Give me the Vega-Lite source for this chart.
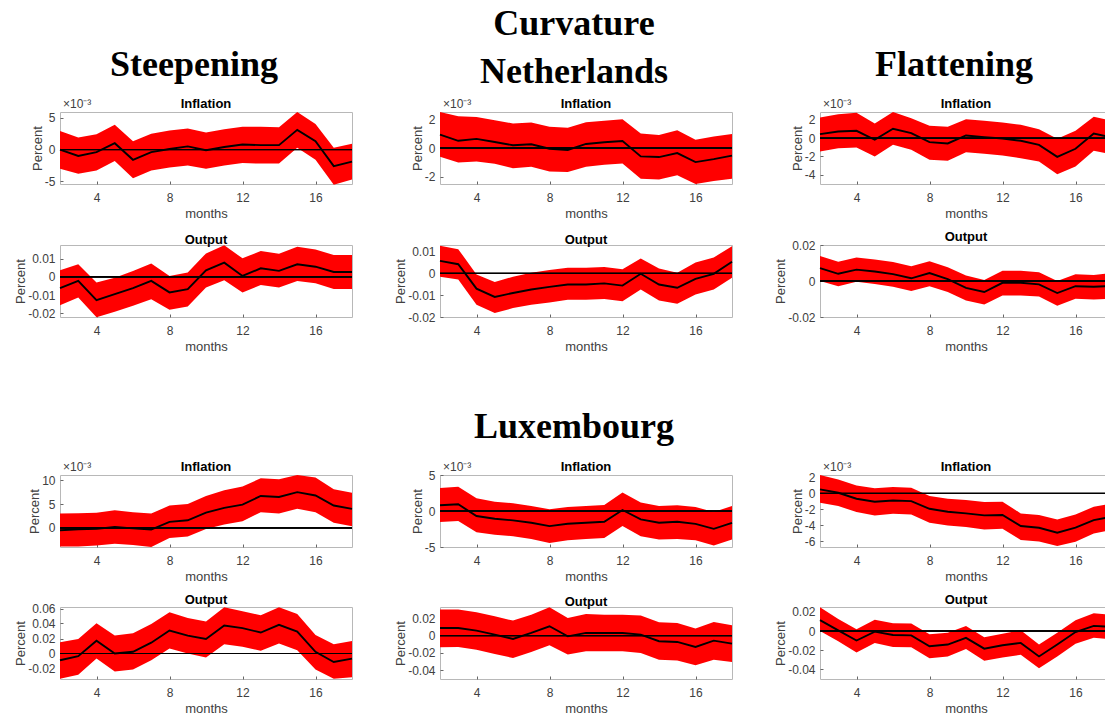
{
"$schema": "https://vega.github.io/schema/vega-lite/v6.json",
"padding": {"left": 14, "top": 5, "right": 0, "bottom": 0},
"background": "white",
"config": {
  "font": "Liberation Sans",
  "view": {"stroke": "#b8b8b8", "strokeWidth": 1},
  "axis": {"grid": false, "domain": false, "ticks": true, "tickSize": -3, "tickColor": "#666666", "labelFontSize": 12, "labelColor": "#404040", "labelOverlap": false, "titleFontSize": 13, "titleFontWeight": "normal", "titleColor": "#404040", "labelFont": "Liberation Sans", "titleFont": "Liberation Sans", "labelExpr": "'' + datum.value"},
  "axisX": {"titlePadding": 4, "labelPadding": 11},
  "axisY": {"titlePadding": 0, "labelPadding": 8},
  "title": {"fontSize": 13, "fontWeight": "bold", "color": "#000000", "offset": -2, "frame": "group", "font": "Liberation Sans"},
  "rule": {"color": "#000000", "strokeWidth": 0.7, "opacity": 0.55},
  "line": {"color": "#000000", "strokeWidth": 1.9, "clip": true},
  "area": {"color": "#ff0000", "clip": true}
},
"datasets": {
 "p1": [{"m":2,"mid":0,"lo":-3.0,"hi":2.9},{"m":3,"mid":-1.0,"lo":-3.8,"hi":1.9},{"m":4,"mid":-0.4,"lo":-3.3,"hi":2.4},{"m":5,"mid":1.0,"lo":-1.8,"hi":3.9},{"m":6,"mid":-1.6,"lo":-4.5,"hi":1.3},{"m":7,"mid":-0.4,"lo":-3.3,"hi":2.5},{"m":8,"mid":0.1,"lo":-2.8,"hi":3.0},{"m":9,"mid":0.5,"lo":-2.5,"hi":3.3},{"m":10,"mid":-0.1,"lo":-3.0,"hi":2.7},{"m":11,"mid":0.4,"lo":-2.5,"hi":3.2},{"m":12,"mid":0.8,"lo":-2.1,"hi":3.6},{"m":13,"mid":0.7,"lo":-2.2,"hi":3.6},{"m":14,"mid":0.7,"lo":-2.2,"hi":3.5},{"m":15,"mid":3.1,"lo":0.3,"hi":5.9},{"m":16,"mid":1.3,"lo":-1.6,"hi":4.0},{"m":17,"mid":-2.6,"lo":-5.5,"hi":0.3},{"m":18,"mid":-1.9,"lo":-4.7,"hi":0.9}],
 "p2": [{"m":2,"mid":0.93,"lo":-0.6,"hi":2.5},{"m":3,"mid":0.5,"lo":-1.0,"hi":2.2},{"m":4,"mid":0.63,"lo":-0.93,"hi":2.16},{"m":5,"mid":0.42,"lo":-1.1,"hi":1.93},{"m":6,"mid":0.19,"lo":-1.4,"hi":1.7},{"m":7,"mid":0.26,"lo":-1.3,"hi":1.77},{"m":8,"mid":-0.05,"lo":-1.63,"hi":1.47},{"m":9,"mid":-0.14,"lo":-1.67,"hi":1.4},{"m":10,"mid":0.28,"lo":-1.3,"hi":1.79},{"m":11,"mid":0.4,"lo":-1.16,"hi":1.9},{"m":12,"mid":0.49,"lo":-1.07,"hi":2.0},{"m":13,"mid":-0.58,"lo":-2.14,"hi":1.0},{"m":14,"mid":-0.63,"lo":-2.19,"hi":0.9},{"m":15,"mid":-0.35,"lo":-1.9,"hi":1.23},{"m":16,"mid":-0.98,"lo":-2.5,"hi":0.58},{"m":17,"mid":-0.77,"lo":-2.3,"hi":0.79},{"m":18,"mid":-0.53,"lo":-2.14,"hi":0.98}],
 "p3": [{"m":2,"mid":0.44,"lo":-1.45,"hi":2.25},{"m":3,"mid":0.73,"lo":-1.09,"hi":2.6},{"m":4,"mid":0.8,"lo":-1.02,"hi":2.76},{"m":5,"mid":-0.18,"lo":-2.0,"hi":1.6},{"m":6,"mid":1.02,"lo":-0.73,"hi":2.84},{"m":7,"mid":0.55,"lo":-1.27,"hi":2.18},{"m":8,"mid":-0.44,"lo":-2.36,"hi":1.35},{"m":9,"mid":-0.58,"lo":-2.47,"hi":1.24},{"m":10,"mid":0.29,"lo":-1.53,"hi":2.07},{"m":11,"mid":0.11,"lo":-1.71,"hi":1.89},{"m":12,"mid":-0.04,"lo":-1.89,"hi":1.71},{"m":13,"mid":-0.29,"lo":-2.18,"hi":1.45},{"m":14,"mid":-0.73,"lo":-2.55,"hi":0.98},{"m":15,"mid":-2.04,"lo":-3.93,"hi":-0.07},{"m":16,"mid":-1.16,"lo":-3.09,"hi":0.8},{"m":17,"mid":0.51,"lo":-1.38,"hi":2.33},{"m":18,"mid":0.07,"lo":-1.75,"hi":1.89}],
 "p4": [{"m":2,"mid":-0.0062,"lo":-0.0155,"hi":0.0036},{"m":3,"mid":-0.0022,"lo":-0.0113,"hi":0.0069},{"m":4,"mid":-0.0127,"lo":-0.0222,"hi":-0.0031},{"m":5,"mid":-0.0095,"lo":-0.0191,"hi":-0.0004},{"m":6,"mid":-0.0062,"lo":-0.0158,"hi":0.0033},{"m":7,"mid":-0.0022,"lo":-0.0122,"hi":0.0073},{"m":8,"mid":-0.0085,"lo":-0.018,"hi":0.0005},{"m":9,"mid":-0.0067,"lo":-0.0162,"hi":0.0024},{"m":10,"mid":0.0036,"lo":-0.0058,"hi":0.0129},{"m":11,"mid":0.0078,"lo":-0.0018,"hi":0.0173},{"m":12,"mid":0.0005,"lo":-0.0085,"hi":0.0102},{"m":13,"mid":0.0047,"lo":-0.0045,"hi":0.0142},{"m":14,"mid":0.0033,"lo":-0.0058,"hi":0.0127},{"m":15,"mid":0.0069,"lo":-0.0022,"hi":0.0165},{"m":16,"mid":0.0056,"lo":-0.0035,"hi":0.0151},{"m":17,"mid":0.0027,"lo":-0.0067,"hi":0.012},{"m":18,"mid":0.0027,"lo":-0.0067,"hi":0.012}],
 "p5": [{"m":2,"mid":0.0057,"lo":-0.0015,"hi":0.0127},{"m":3,"mid":0.0042,"lo":-0.0028,"hi":0.0111},{"m":4,"mid":-0.007,"lo":-0.0144,"hi":-0.0005},{"m":5,"mid":-0.0108,"lo":-0.0182,"hi":-0.004},{"m":6,"mid":-0.009,"lo":-0.0159,"hi":-0.0015},{"m":7,"mid":-0.0074,"lo":-0.0144,"hi":0.0003},{"m":8,"mid":-0.0062,"lo":-0.0133,"hi":0.0015},{"m":9,"mid":-0.0051,"lo":-0.0121,"hi":0.0026},{"m":10,"mid":-0.0051,"lo":-0.0121,"hi":0.0026},{"m":11,"mid":-0.0046,"lo":-0.0117,"hi":0.0029},{"m":12,"mid":-0.0056,"lo":-0.0128,"hi":0.0019},{"m":13,"mid":-0.0002,"lo":-0.0074,"hi":0.0068},{"m":14,"mid":-0.0051,"lo":-0.0124,"hi":0.0022},{"m":15,"mid":-0.0066,"lo":-0.0139,"hi":0.0003},{"m":16,"mid":-0.0025,"lo":-0.0097,"hi":0.005},{"m":17,"mid":-0.0002,"lo":-0.0074,"hi":0.0073},{"m":18,"mid":0.0053,"lo":-0.002,"hi":0.0124}],
 "p6": [{"m":2,"mid":0.0072,"lo":0.0,"hi":0.0139},{"m":3,"mid":0.004,"lo":-0.0029,"hi":0.0107},{"m":4,"mid":0.0063,"lo":-0.0004,"hi":0.013},{"m":5,"mid":0.0053,"lo":-0.0017,"hi":0.012},{"m":6,"mid":0.0038,"lo":-0.0032,"hi":0.0105},{"m":7,"mid":0.0015,"lo":-0.0055,"hi":0.0082},{"m":8,"mid":0.0044,"lo":-0.0029,"hi":0.011},{"m":9,"mid":0.001,"lo":-0.0061,"hi":0.0076},{"m":10,"mid":-0.0038,"lo":-0.0109,"hi":0.003},{"m":11,"mid":-0.0061,"lo":-0.0131,"hi":0.0006},{"m":12,"mid":-0.001,"lo":-0.008,"hi":0.0057},{"m":13,"mid":-0.001,"lo":-0.008,"hi":0.0057},{"m":14,"mid":-0.0019,"lo":-0.0086,"hi":0.0048},{"m":15,"mid":-0.0067,"lo":-0.0137,"hi":0.0},{"m":16,"mid":-0.0029,"lo":-0.0099,"hi":0.0038},{"m":17,"mid":-0.0032,"lo":-0.0103,"hi":0.0034},{"m":18,"mid":-0.0027,"lo":-0.0099,"hi":0.0044}],
 "p7": [{"m":2,"mid":-0.5,"lo":-3.9,"hi":3.0},{"m":3,"mid":-0.3,"lo":-3.9,"hi":3.1},{"m":4,"mid":-0.2,"lo":-3.7,"hi":3.2},{"m":5,"mid":0.2,"lo":-3.3,"hi":3.7},{"m":6,"mid":-0.1,"lo":-3.6,"hi":3.3},{"m":7,"mid":-0.35,"lo":-4.0,"hi":3.0},{"m":8,"mid":1.27,"lo":-2.1,"hi":4.7},{"m":9,"mid":1.6,"lo":-1.8,"hi":5.0},{"m":10,"mid":3.2,"lo":-0.2,"hi":6.7},{"m":11,"mid":4.2,"lo":0.7,"hi":7.9},{"m":12,"mid":4.9,"lo":1.4,"hi":8.7},{"m":13,"mid":6.7,"lo":3.3,"hi":10.4},{"m":14,"mid":6.5,"lo":3.0,"hi":10.2},{"m":15,"mid":7.5,"lo":4.0,"hi":11.1},{"m":16,"mid":6.8,"lo":3.3,"hi":10.6},{"m":17,"mid":4.7,"lo":1.1,"hi":8.1},{"m":18,"mid":4.0,"lo":0.35,"hi":7.4}],
 "p8": [{"m":2,"mid":0.8,"lo":-1.54,"hi":3.2},{"m":3,"mid":0.93,"lo":-1.4,"hi":3.36},{"m":4,"mid":-0.7,"lo":-2.94,"hi":1.78},{"m":5,"mid":-1.07,"lo":-3.3,"hi":1.3},{"m":6,"mid":-1.3,"lo":-3.5,"hi":1.07},{"m":7,"mid":-1.64,"lo":-3.88,"hi":0.7},{"m":8,"mid":-2.1,"lo":-4.44,"hi":0.23},{"m":9,"mid":-1.78,"lo":-4.07,"hi":0.56},{"m":10,"mid":-1.64,"lo":-3.88,"hi":0.7},{"m":11,"mid":-1.5,"lo":-3.74,"hi":0.84},{"m":12,"mid":0.14,"lo":-2.1,"hi":2.57},{"m":13,"mid":-1.17,"lo":-3.5,"hi":1.17},{"m":14,"mid":-1.64,"lo":-3.97,"hi":0.7},{"m":15,"mid":-1.5,"lo":-3.88,"hi":0.8},{"m":16,"mid":-1.78,"lo":-4.07,"hi":0.56},{"m":17,"mid":-2.48,"lo":-4.8,"hi":-0.14},{"m":18,"mid":-1.64,"lo":-3.97,"hi":0.7}],
 "p9": [{"m":2,"mid":0.5,"lo":-1.17,"hi":2.3},{"m":3,"mid":0.08,"lo":-1.58,"hi":1.75},{"m":4,"mid":-0.67,"lo":-2.33,"hi":1.0},{"m":5,"mid":-1.04,"lo":-2.75,"hi":0.63},{"m":6,"mid":-0.88,"lo":-2.54,"hi":0.79},{"m":7,"mid":-0.96,"lo":-2.63,"hi":0.71},{"m":8,"mid":-1.92,"lo":-3.67,"hi":-0.33},{"m":9,"mid":-2.29,"lo":-4.0,"hi":-0.67},{"m":10,"mid":-2.5,"lo":-4.21,"hi":-0.83},{"m":11,"mid":-2.75,"lo":-4.5,"hi":-1.08},{"m":12,"mid":-2.7,"lo":-4.42,"hi":-1.04},{"m":13,"mid":-4.08,"lo":-5.83,"hi":-2.5},{"m":14,"mid":-4.29,"lo":-6.0,"hi":-2.71},{"m":15,"mid":-4.92,"lo":-6.58,"hi":-3.25},{"m":16,"mid":-4.29,"lo":-6.04,"hi":-2.63},{"m":17,"mid":-3.33,"lo":-5.0,"hi":-1.67},{"m":18,"mid":-2.9,"lo":-4.58,"hi":-1.25}],
 "p10": [{"m":2,"mid":-0.009,"lo":-0.0338,"hi":0.0149},{"m":3,"mid":-0.0036,"lo":-0.0284,"hi":0.0194},{"m":4,"mid":0.017,"lo":-0.0068,"hi":0.0405},{"m":5,"mid":0.0,"lo":-0.0239,"hi":0.0239},{"m":6,"mid":0.0023,"lo":-0.0212,"hi":0.027},{"m":7,"mid":0.0144,"lo":-0.009,"hi":0.0392},{"m":8,"mid":0.0306,"lo":0.0068,"hi":0.055},{"m":9,"mid":0.0239,"lo":0.0,"hi":0.0473},{"m":10,"mid":0.0194,"lo":-0.0054,"hi":0.0428},{"m":11,"mid":0.0374,"lo":0.0122,"hi":0.0617},{"m":12,"mid":0.0338,"lo":0.009,"hi":0.0563},{"m":13,"mid":0.028,"lo":0.0036,"hi":0.0509},{"m":14,"mid":0.0383,"lo":0.0135,"hi":0.0617},{"m":15,"mid":0.0293,"lo":0.0045,"hi":0.0527},{"m":16,"mid":0.0023,"lo":-0.0212,"hi":0.0248},{"m":17,"mid":-0.0113,"lo":-0.0338,"hi":0.0122},{"m":18,"mid":-0.0068,"lo":-0.0315,"hi":0.0167}],
 "p11": [{"m":2,"mid":0.0088,"lo":-0.0135,"hi":0.03},{"m":3,"mid":0.0088,"lo":-0.0131,"hi":0.03},{"m":4,"mid":0.0058,"lo":-0.0162,"hi":0.0269},{"m":5,"mid":0.0012,"lo":-0.0212,"hi":0.0223},{"m":6,"mid":-0.0038,"lo":-0.0258,"hi":0.0173},{"m":7,"mid":0.0031,"lo":-0.0188,"hi":0.0242},{"m":8,"mid":0.0108,"lo":-0.0112,"hi":0.0327},{"m":9,"mid":-0.0008,"lo":-0.0219,"hi":0.0204},{"m":10,"mid":0.0031,"lo":-0.0181,"hi":0.025},{"m":11,"mid":0.0031,"lo":-0.0181,"hi":0.0242},{"m":12,"mid":0.0031,"lo":-0.0181,"hi":0.0242},{"m":13,"mid":0.0012,"lo":-0.02,"hi":0.0231},{"m":14,"mid":-0.0065,"lo":-0.0277,"hi":0.0154},{"m":15,"mid":-0.0073,"lo":-0.0288,"hi":0.0146},{"m":16,"mid":-0.0131,"lo":-0.0342,"hi":0.0081},{"m":17,"mid":-0.0058,"lo":-0.0277,"hi":0.0158},{"m":18,"mid":-0.0092,"lo":-0.0304,"hi":0.0119}],
 "p12": [{"m":2,"mid":0.0113,"lo":0.0,"hi":0.0247},{"m":3,"mid":0.0007,"lo":-0.0106,"hi":0.0124},{"m":4,"mid":-0.0099,"lo":-0.0223,"hi":0.0018},{"m":5,"mid":-0.0007,"lo":-0.0124,"hi":0.0117},{"m":6,"mid":-0.0042,"lo":-0.0166,"hi":0.0081},{"m":7,"mid":-0.0046,"lo":-0.017,"hi":0.0078},{"m":8,"mid":-0.0159,"lo":-0.0283,"hi":-0.0035},{"m":9,"mid":-0.0141,"lo":-0.0265,"hi":-0.0018},{"m":10,"mid":-0.0071,"lo":-0.0187,"hi":0.0053},{"m":11,"mid":-0.0184,"lo":-0.0311,"hi":-0.0064},{"m":12,"mid":-0.0148,"lo":-0.0276,"hi":-0.0028},{"m":13,"mid":-0.0124,"lo":-0.0247,"hi":0.0007},{"m":14,"mid":-0.0265,"lo":-0.0389,"hi":-0.0141},{"m":15,"mid":-0.0141,"lo":-0.0265,"hi":-0.0018},{"m":16,"mid":-0.0011,"lo":-0.0134,"hi":0.0113},{"m":17,"mid":0.0053,"lo":-0.0071,"hi":0.0184},{"m":18,"mid":0.0042,"lo":-0.0088,"hi":0.017}]
},
"vconcat": [
 {"vconcat": [
  {"hconcat": [
    {"data": {"name": "p1"}, "width": 292, "height": 72,
     "title": {"text": "Steepening", "font": "Liberation Serif", "fontSize": 36, "fontWeight": "bold", "offset": 14, "dx": -12},
     "layer": [
      {"mark": "area", "encoding": {"x": {"field": "m", "type": "quantitative", "scale": {"domain": [2, 18], "nice": false, "zero": false}, "axis": {"values": [4, 8, 12, 16], "tickCount": 20, "title": "months"}}, "y": {"field": "lo", "type": "quantitative", "scale": {"domain": [-5.4, 5.9], "nice": false, "zero": false}, "axis": {"values": [-5, 0, 5], "tickCount": 20, "title": "Percent"}}, "y2": {"field": "hi"}}},
      {"mark": "rule", "encoding": {"y": {"datum": 0}}},
      {"mark": "line", "encoding": {"x": {"field": "m", "type": "quantitative"}, "y": {"field": "mid", "type": "quantitative"}}},
      {"data": {"values": [{"t": "×10⁻³"}]}, "mark": {"type": "text", "align": "left", "baseline": "alphabetic", "dx": 3, "dy": -4, "fontSize": 12, "color": "#404040"}, "encoding": {"x": {"datum": 2}, "y": {"datum": 5.9}, "text": {"field": "t"}}},
      {"data": {"values": [{"t": "Inflation"}]}, "mark": {"type": "text", "align": "center", "baseline": "alphabetic", "dy": -4, "fontSize": 13, "fontWeight": "bold", "color": "#000000"}, "encoding": {"x": {"datum": 10}, "y": {"datum": 5.9}, "text": {"field": "t"}}}
    ]},
    {"data": {"name": "p2"}, "width": 292, "height": 72,
     "title": {"text": ["Curvature", "Netherlands"], "font": "Liberation Serif", "fontSize": 36, "fontWeight": "bold", "offset": 7, "dx": -12, "lineHeight": 48},
     "layer": [
      {"mark": "area", "encoding": {"x": {"field": "m", "type": "quantitative", "scale": {"domain": [2, 18], "nice": false, "zero": false}, "axis": {"values": [4, 8, 12, 16], "tickCount": 20, "title": "months"}}, "y": {"field": "lo", "type": "quantitative", "scale": {"domain": [-2.5, 2.5], "nice": false, "zero": false}, "axis": {"values": [-2, 0, 2], "tickCount": 20, "title": "Percent"}}, "y2": {"field": "hi"}}},
      {"mark": "rule", "encoding": {"y": {"datum": 0}}},
      {"mark": "line", "encoding": {"x": {"field": "m", "type": "quantitative"}, "y": {"field": "mid", "type": "quantitative"}}},
      {"data": {"values": [{"t": "×10⁻³"}]}, "mark": {"type": "text", "align": "left", "baseline": "alphabetic", "dx": 3, "dy": -4, "fontSize": 12, "color": "#404040"}, "encoding": {"x": {"datum": 2}, "y": {"datum": 2.5}, "text": {"field": "t"}}},
      {"data": {"values": [{"t": "Inflation"}]}, "mark": {"type": "text", "align": "center", "baseline": "alphabetic", "dy": -4, "fontSize": 13, "fontWeight": "bold", "color": "#000000"}, "encoding": {"x": {"datum": 10}, "y": {"datum": 2.5}, "text": {"field": "t"}}}
    ]},
    {"data": {"name": "p3"}, "width": 292, "height": 72,
     "title": {"text": "Flattening", "font": "Liberation Serif", "fontSize": 36, "fontWeight": "bold", "offset": 14, "dx": -12},
     "layer": [
      {"mark": "area", "encoding": {"x": {"field": "m", "type": "quantitative", "scale": {"domain": [2, 18], "nice": false, "zero": false}, "axis": {"values": [4, 8, 12, 16], "tickCount": 20, "title": "months"}}, "y": {"field": "lo", "type": "quantitative", "scale": {"domain": [-5, 2.85], "nice": false, "zero": false}, "axis": {"values": [-4, -2, 0, 2], "tickCount": 20, "title": "Percent"}}, "y2": {"field": "hi"}}},
      {"mark": "rule", "encoding": {"y": {"datum": 0}}},
      {"mark": "line", "encoding": {"x": {"field": "m", "type": "quantitative"}, "y": {"field": "mid", "type": "quantitative"}}},
      {"data": {"values": [{"t": "×10⁻³"}]}, "mark": {"type": "text", "align": "left", "baseline": "alphabetic", "dx": 3, "dy": -4, "fontSize": 12, "color": "#404040"}, "encoding": {"x": {"datum": 2}, "y": {"datum": 2.85}, "text": {"field": "t"}}},
      {"data": {"values": [{"t": "Inflation"}]}, "mark": {"type": "text", "align": "center", "baseline": "alphabetic", "dy": -4, "fontSize": 13, "fontWeight": "bold", "color": "#000000"}, "encoding": {"x": {"datum": 10}, "y": {"datum": 2.85}, "text": {"field": "t"}}}
    ]}
  ], "spacing": 88, "bounds": "flush"},
  {"hconcat": [
    {"data": {"name": "p4"}, "width": 292, "height": 72, "title": "Output", "layer": [
      {"mark": "area", "encoding": {"x": {"field": "m", "type": "quantitative", "scale": {"domain": [2, 18], "nice": false, "zero": false}, "axis": {"values": [4, 8, 12, 16], "tickCount": 20, "title": "months"}}, "y": {"field": "lo", "type": "quantitative", "scale": {"domain": [-0.022, 0.0175], "nice": false, "zero": false}, "axis": {"values": [-0.02, -0.01, 0, 0.01], "tickCount": 20, "title": "Percent"}}, "y2": {"field": "hi"}}},
      {"mark": "rule", "encoding": {"y": {"datum": 0}}},
      {"mark": "line", "encoding": {"x": {"field": "m", "type": "quantitative"}, "y": {"field": "mid", "type": "quantitative"}}}
    ]},
    {"data": {"name": "p5"}, "width": 292, "height": 72, "title": "Output", "layer": [
      {"mark": "area", "encoding": {"x": {"field": "m", "type": "quantitative", "scale": {"domain": [2, 18], "nice": false, "zero": false}, "axis": {"values": [4, 8, 12, 16], "tickCount": 20, "title": "months"}}, "y": {"field": "lo", "type": "quantitative", "scale": {"domain": [-0.02, 0.013], "nice": false, "zero": false}, "axis": {"values": [-0.02, -0.01, 0, 0.01], "tickCount": 20, "title": "Percent"}}, "y2": {"field": "hi"}}},
      {"mark": "rule", "encoding": {"y": {"datum": 0}}},
      {"mark": "line", "encoding": {"x": {"field": "m", "type": "quantitative"}, "y": {"field": "mid", "type": "quantitative"}}}
    ]},
    {"data": {"name": "p6"}, "width": 292, "height": 72, "title": {"text": "Output", "offset": -5}, "layer": [
      {"mark": "area", "encoding": {"x": {"field": "m", "type": "quantitative", "scale": {"domain": [2, 18], "nice": false, "zero": false}, "axis": {"values": [4, 8, 12, 16], "tickCount": 20, "title": "months"}}, "y": {"field": "lo", "type": "quantitative", "scale": {"domain": [-0.02, 0.02], "nice": false, "zero": false}, "axis": {"values": [-0.02, 0, 0.02], "tickCount": 20, "title": "Percent"}}, "y2": {"field": "hi"}}},
      {"mark": "rule", "encoding": {"y": {"datum": 0}}},
      {"mark": "line", "encoding": {"x": {"field": "m", "type": "quantitative"}, "y": {"field": "mid", "type": "quantitative"}}}
    ]}
  ], "spacing": 88, "bounds": "flush"}
 ], "spacing": 133, "bounds": "flush"},
 {"vconcat": [
  {"hconcat": [
    {"data": {"name": "p7"}, "width": 292, "height": 72, "layer": [
      {"mark": "area", "encoding": {"x": {"field": "m", "type": "quantitative", "scale": {"domain": [2, 18], "nice": false, "zero": false}, "axis": {"values": [4, 8, 12, 16], "tickCount": 20, "title": "months"}}, "y": {"field": "lo", "type": "quantitative", "scale": {"domain": [-4, 11.1], "nice": false, "zero": false}, "axis": {"values": [0, 5, 10], "tickCount": 20, "title": "Percent"}}, "y2": {"field": "hi"}}},
      {"mark": "rule", "encoding": {"y": {"datum": 0}}},
      {"mark": "line", "encoding": {"x": {"field": "m", "type": "quantitative"}, "y": {"field": "mid", "type": "quantitative"}}},
      {"data": {"values": [{"t": "×10⁻³"}]}, "mark": {"type": "text", "align": "left", "baseline": "alphabetic", "dx": 3, "dy": -4, "fontSize": 12, "color": "#404040"}, "encoding": {"x": {"datum": 2}, "y": {"datum": 11.1}, "text": {"field": "t"}}},
      {"data": {"values": [{"t": "Inflation"}]}, "mark": {"type": "text", "align": "center", "baseline": "alphabetic", "dy": -4, "fontSize": 13, "fontWeight": "bold", "color": "#000000"}, "encoding": {"x": {"datum": 10}, "y": {"datum": 11.1}, "text": {"field": "t"}}}
    ]},
    {"data": {"name": "p8"}, "width": 292, "height": 72,
     "title": {"text": "Luxembourg", "font": "Liberation Serif", "fontSize": 36, "fontWeight": "bold", "offset": 15, "dx": -12},
     "layer": [
      {"mark": "area", "encoding": {"x": {"field": "m", "type": "quantitative", "scale": {"domain": [2, 18], "nice": false, "zero": false}, "axis": {"values": [4, 8, 12, 16], "tickCount": 20, "title": "months"}}, "y": {"field": "lo", "type": "quantitative", "scale": {"domain": [-5, 5], "nice": false, "zero": false}, "axis": {"values": [-5, 0, 5], "tickCount": 20, "title": "Percent"}}, "y2": {"field": "hi"}}},
      {"mark": "rule", "encoding": {"y": {"datum": 0}}},
      {"mark": "line", "encoding": {"x": {"field": "m", "type": "quantitative"}, "y": {"field": "mid", "type": "quantitative"}}},
      {"data": {"values": [{"t": "×10⁻³"}]}, "mark": {"type": "text", "align": "left", "baseline": "alphabetic", "dx": 3, "dy": -4, "fontSize": 12, "color": "#404040"}, "encoding": {"x": {"datum": 2}, "y": {"datum": 5}, "text": {"field": "t"}}},
      {"data": {"values": [{"t": "Inflation"}]}, "mark": {"type": "text", "align": "center", "baseline": "alphabetic", "dy": -4, "fontSize": 13, "fontWeight": "bold", "color": "#000000"}, "encoding": {"x": {"datum": 10}, "y": {"datum": 5}, "text": {"field": "t"}}}
    ]},
    {"data": {"name": "p9"}, "width": 292, "height": 72, "layer": [
      {"mark": "area", "encoding": {"x": {"field": "m", "type": "quantitative", "scale": {"domain": [2, 18], "nice": false, "zero": false}, "axis": {"values": [4, 8, 12, 16], "tickCount": 20, "title": "months"}}, "y": {"field": "lo", "type": "quantitative", "scale": {"domain": [-6.7, 2.3], "nice": false, "zero": false}, "axis": {"values": [-6, -4, -2, 0, 2], "tickCount": 20, "title": "Percent"}}, "y2": {"field": "hi"}}},
      {"mark": "rule", "encoding": {"y": {"datum": 0}}},
      {"mark": "line", "encoding": {"x": {"field": "m", "type": "quantitative"}, "y": {"field": "mid", "type": "quantitative"}}},
      {"data": {"values": [{"t": "×10⁻³"}]}, "mark": {"type": "text", "align": "left", "baseline": "alphabetic", "dx": 3, "dy": -4, "fontSize": 12, "color": "#404040"}, "encoding": {"x": {"datum": 2}, "y": {"datum": 2.3}, "text": {"field": "t"}}},
      {"data": {"values": [{"t": "Inflation"}]}, "mark": {"type": "text", "align": "center", "baseline": "alphabetic", "dy": -4, "fontSize": 13, "fontWeight": "bold", "color": "#000000"}, "encoding": {"x": {"datum": 10}, "y": {"datum": 2.3}, "text": {"field": "t"}}}
    ]}
  ], "spacing": 88, "bounds": "flush"},
  {"hconcat": [
    {"data": {"name": "p10"}, "width": 292, "height": 72, "title": {"text": "Output", "offset": -4}, "layer": [
      {"mark": "area", "encoding": {"x": {"field": "m", "type": "quantitative", "scale": {"domain": [2, 18], "nice": false, "zero": false}, "axis": {"values": [4, 8, 12, 16], "tickCount": 20, "title": "months"}}, "y": {"field": "lo", "type": "quantitative", "scale": {"domain": [-0.034, 0.062], "nice": false, "zero": false}, "axis": {"values": [-0.02, 0, 0.02, 0.04, 0.06], "tickCount": 20, "title": "Percent"}}, "y2": {"field": "hi"}}},
      {"mark": "rule", "encoding": {"y": {"datum": 0}}},
      {"mark": "line", "encoding": {"x": {"field": "m", "type": "quantitative"}, "y": {"field": "mid", "type": "quantitative"}}}
    ]},
    {"data": {"name": "p11"}, "width": 292, "height": 72, "title": "Output", "layer": [
      {"mark": "area", "encoding": {"x": {"field": "m", "type": "quantitative", "scale": {"domain": [2, 18], "nice": false, "zero": false}, "axis": {"values": [4, 8, 12, 16], "tickCount": 20, "title": "months"}}, "y": {"field": "lo", "type": "quantitative", "scale": {"domain": [-0.05, 0.033], "nice": false, "zero": false}, "axis": {"values": [-0.04, -0.02, 0, 0.02], "tickCount": 20, "title": "Percent"}}, "y2": {"field": "hi"}}},
      {"mark": "rule", "encoding": {"y": {"datum": 0}}},
      {"mark": "line", "encoding": {"x": {"field": "m", "type": "quantitative"}, "y": {"field": "mid", "type": "quantitative"}}}
    ]},
    {"data": {"name": "p12"}, "width": 292, "height": 72, "title": {"text": "Output", "offset": -1}, "layer": [
      {"mark": "area", "encoding": {"x": {"field": "m", "type": "quantitative", "scale": {"domain": [2, 18], "nice": false, "zero": false}, "axis": {"values": [4, 8, 12, 16], "tickCount": 20, "title": "months"}}, "y": {"field": "lo", "type": "quantitative", "scale": {"domain": [-0.05, 0.025], "nice": false, "zero": false}, "axis": {"values": [-0.04, -0.02, 0, 0.02], "tickCount": 20, "title": "Percent"}}, "y2": {"field": "hi"}}},
      {"mark": "rule", "encoding": {"y": {"datum": 0}}},
      {"mark": "line", "encoding": {"x": {"field": "m", "type": "quantitative"}, "y": {"field": "mid", "type": "quantitative"}}}
    ]}
  ], "spacing": 88, "bounds": "flush"}
 ], "spacing": 132, "bounds": "flush"}
],
"spacing": 363,
"bounds": "flush"
}
